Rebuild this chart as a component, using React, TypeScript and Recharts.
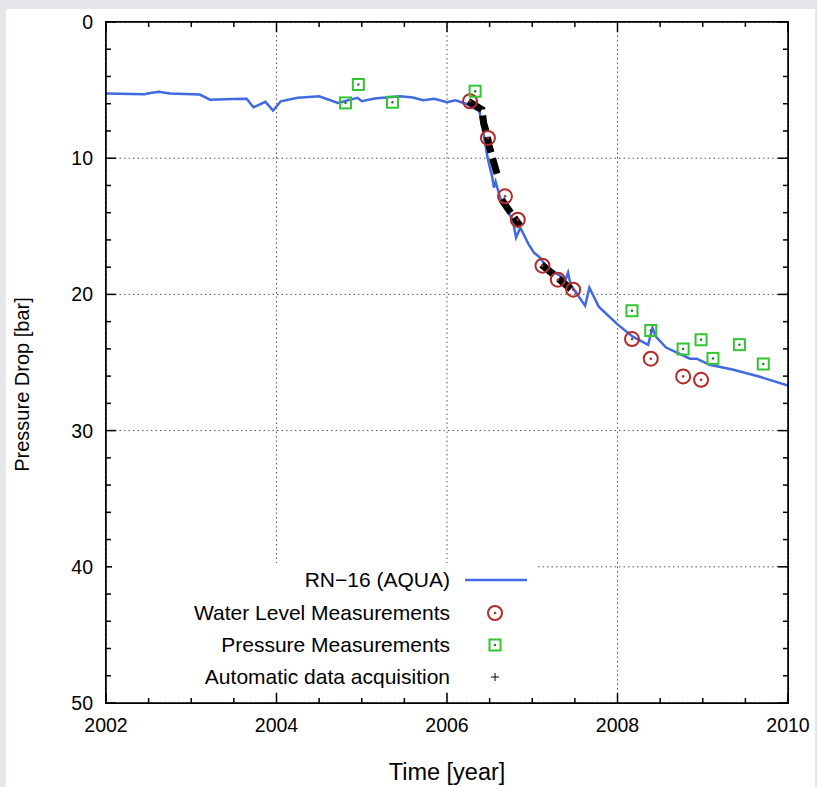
import React from "react";
import { ComposedChart, Line, Scatter, XAxis, YAxis, CartesianGrid } from "recharts";

const FONT = "'Liberation Sans', Arial, Helvetica, sans-serif";

const YEAR_TICKS = [2002, 2004, 2006, 2008, 2010];
const YEAR_ALL = [
  2002, 2002.5, 2003, 2003.5, 2004, 2004.5, 2005, 2005.5, 2006, 2006.5, 2007,
  2007.5, 2008, 2008.5, 2009, 2009.5, 2010,
];
const DROP_TICKS = [0, 10, 20, 30, 40, 50];
const DROP_ALL = [
  0, 2, 4, 6, 8, 10, 12, 14, 16, 18, 20, 22, 24, 26, 28, 30, 32, 34, 36, 38,
  40, 42, 44, 46, 48, 50,
];

// RN-16 (AQUA) model curve
const aquaYears = [
  2002.0, 2002.45, 2002.52, 2002.62, 2002.75, 2003.1, 2003.22, 2003.5, 2003.65,
  2003.73, 2003.87, 2003.96, 2004.05, 2004.25, 2004.5, 2004.72, 2004.95, 2005.0,
  2005.15, 2005.45, 2005.6, 2005.72, 2005.85, 2006.0, 2006.1, 2006.22, 2006.38,
  2006.44, 2006.48, 2006.53, 2006.55, 2006.57, 2006.63, 2006.77, 2006.81,
  2006.86, 2006.96, 2007.02, 2007.08, 2007.15, 2007.27, 2007.39, 2007.42,
  2007.45, 2007.62, 2007.67, 2007.78, 2008.0, 2008.18, 2008.36, 2008.38,
  2008.41, 2008.45, 2008.57, 2008.85, 2008.93, 2009.08, 2009.36, 2009.67, 2010.0,
];
const aquaDrop = [
  5.25, 5.3, 5.22, 5.13, 5.25, 5.33, 5.7, 5.65, 5.64,
  6.26, 5.86, 6.5, 5.82, 5.57, 5.45, 5.94, 5.57, 5.82,
  5.62, 5.45, 5.55, 5.75, 5.64, 5.89, 5.75, 6.0, 6.55,
  8.63, 10.1, 11.35, 12.16, 11.72, 13.04, 14.51, 15.83,
  15.1, 16.35, 16.94, 17.23, 17.82, 18.4, 18.92, 18.4,
  19.29, 20.83, 19.5, 20.9, 22.2, 23.1, 23.7, 23.18,
  22.45, 23.1, 23.9, 24.72, 24.72, 25.17, 25.53, 26.05, 26.7,
];

// Water level measurements
const waterYears = [
  2006.27, 2006.48, 2006.68, 2006.83, 2007.12, 2007.3, 2007.48, 2008.17,
  2008.39, 2008.77, 2008.98,
];
const waterDrop = [5.82, 8.51, 12.8, 14.51, 17.89, 18.92, 19.65, 23.28, 24.72, 26.02, 26.27];

// Pressure measurements
const pressureYears = [
  2004.81, 2004.96, 2005.36, 2006.33, 2008.17, 2008.39, 2008.77, 2008.98,
  2009.12, 2009.43, 2009.71,
];
const pressureDrop = [5.94, 4.59, 5.89, 5.08, 21.2, 22.65, 24.01, 23.33, 24.7, 23.69, 25.11];

// Automatic data acquisition (null = gap)
const autoYears = [
  2006.25, 2006.41, 2006.43, 2006.47, 2006.49, 2006.55, 2006.6, 2006.62,
  2006.64, 2006.86, 2006.98, 2007.11, 2007.51,
];
const autoDrop = [5.82, 6.43, 7.41, 8.27, 9.0, 10.35, 11.45, null, 13.04, 15.0, null, 17.82, 19.9];

const SERIES_NAMES = [
  "RN\u221216 (AQUA)",
  "Water Level Measurements",
  "Pressure Measurements",
  "Automatic data acquisition",
];

const zip = (xs: number[], ys: (number | null)[]) => xs.map((x, i) => ({ x, y: ys[i] }));

const aquaData = zip(aquaYears, aquaDrop);
const waterData = zip(waterYears, waterDrop);
const pressureData = zip(pressureYears, pressureDrop);
const autoData = zip(autoYears, autoDrop);

const W = 817;
const H = 787;
const MARGIN = { top: 21, right: 28, bottom: 54, left: 46 };
const Y_AXIS_W = 60;
const X_AXIS_H = 30;
const PLOT_LEFT = MARGIN.left + Y_AXIS_W;
const PLOT_TOP = MARGIN.top + 1;
// plot size, so a bottom/left tick can also draw its twin on the top/right frame
const PLOT_W = W - PLOT_LEFT - MARGIN.right - 1;
const PLOT_H = H - PLOT_TOP - MARGIN.bottom - X_AXIS_H;

const RED = "#b22a2a";
const GREEN = "#33c433";
const BLUE = "#4169e1";

function Ring({ cx, cy }: any) {
  return (
    <g>
      <circle cx={cx} cy={cy} r={7} fill="none" stroke={RED} strokeWidth={2} />
      <circle cx={cx} cy={cy} r={1.3} fill={RED} />
    </g>
  );
}

function Box({ cx, cy }: any) {
  return (
    <g>
      <rect x={cx - 5.5} y={cy - 5.5} width={11} height={11} fill="none" stroke={GREEN} strokeWidth={2} />
      <circle cx={cx} cy={cy} r={1.2} fill="#1a7a1a" />
    </g>
  );
}

const NoLabel = () => <g />;

function XTick({ x, y, payload }: any) {
  const major = YEAR_TICKS.includes(payload.value);
  const len = major ? 10 : 5;
  return (
    <g>
      <line x1={x} y1={y} x2={x} y2={y - len} stroke="#000" strokeWidth={1.5} />
      <line x1={x} y1={y - PLOT_H} x2={x} y2={y - PLOT_H + len} stroke="#000" strokeWidth={1.5} />
      {major && (
        <text x={x} y={y + 15} dy="0.71em" textAnchor="middle" fill="#000" fontSize={19.5} fontFamily={FONT}>
          {payload.value}
        </text>
      )}
    </g>
  );
}

function YTick({ x, y, payload }: any) {
  const major = DROP_TICKS.includes(payload.value);
  const len = major ? 10 : 5;
  return (
    <g>
      <line x1={x} y1={y} x2={x + len} y2={y} stroke="#000" strokeWidth={1.5} />
      <line x1={x + PLOT_W} y1={y} x2={x + PLOT_W - len} y2={y} stroke="#000" strokeWidth={1.5} />
      {major && (
        <text x={x - 13} y={y} dy="0.355em" textAnchor="end" fill="#000" fontSize={19.5} fontFamily={FONT}>
          {payload.value}
        </text>
      )}
    </g>
  );
}

const blackLine = { stroke: "#000", strokeWidth: 1.5 };

function LegendBox() {
  const rows = [17, 49.5, 82, 114];
  const symbols = [
    <line x1={0} y1={15} x2={62} y2={15} stroke={BLUE} strokeWidth={2.5} />,
    <Ring cx={30} cy={15} />,
    <Box cx={30} cy={15} />,
    <g stroke="#000" strokeWidth={1}>
      <line x1={26} y1={15} x2={34} y2={15} />
      <line x1={30} y1={11} x2={30} y2={19} />
    </g>,
  ];
  const left = 112;
  return (
    <div
      style={{
        position: "absolute",
        left,
        top: 563,
        width: 535 - left,
        height: 129,
        background: "#fff",
      }}
    >
      {SERIES_NAMES.map((name, i) => (
        <div key={name} style={{ position: "absolute", left: 0, top: rows[i] - 15, width: 535 - left, height: 30 }}>
          <span
            style={{
              position: "absolute",
              right: 535 - 450,
              lineHeight: "30px",
              fontSize: 21,
              whiteSpace: "nowrap",
              color: "#000",
            }}
          >
            {name}
          </span>
          <svg style={{ position: "absolute", left: 465 - left }} width={64} height={30}>
            {symbols[i]}
          </svg>
        </div>
      ))}
    </div>
  );
}

export default function App() {
  return (
    <div
      style={{
        position: "absolute",
        left: 0,
        top: 0,
        width: W,
        height: H,
        background: "#e4e6ea",
        overflow: "hidden",
        fontFamily: FONT,
      }}
    >
      <div style={{ position: "absolute", left: 6, top: 9, width: 809, height: 778, background: "#fff" }} />
      <div style={{ position: "absolute", left: 0, top: 0 }}>
        <ComposedChart width={W} height={H} margin={MARGIN}>
          <CartesianGrid xAxisId="xt" yAxisId="yr" stroke="#555" strokeDasharray="1.5 3" />
          <XAxis
            xAxisId="x"
            dataKey="x"
            type="number"
            domain={[2002, 2010]}
            ticks={YEAR_ALL}
            interval={0}
            allowDataOverflow
            height={X_AXIS_H}
            tickSize={0}
            tickMargin={0}
            tickLine={false}
            axisLine={blackLine}
            tick={XTick}
            label={{ value: "Time [year]", position: "bottom", offset: 30, fill: "#000", fontSize: 23.5, fontFamily: FONT }}
          />
          <XAxis
            xAxisId="xt"
            dataKey="x"
            orientation="top"
            type="number"
            domain={[2002, 2010]}
            ticks={YEAR_TICKS}
            allowDataOverflow
            height={1}
            tickLine={false}
            axisLine={blackLine}
            tick={NoLabel}
          />
          <YAxis
            yAxisId="y"
            dataKey="y"
            type="number"
            reversed
            domain={[0, 50]}
            ticks={DROP_ALL}
            interval={0}
            allowDataOverflow
            width={Y_AXIS_W}
            tickSize={0}
            tickMargin={0}
            tickLine={false}
            axisLine={blackLine}
            tick={YTick}
            label={{
              content: ({ viewBox }: any) => {
                const cy = viewBox.y + viewBox.height / 2 + 22;
                return (
                  <text
                    x={22}
                    y={cy}
                    transform={`rotate(-90 22 ${cy})`}
                    textAnchor="middle"
                    dominantBaseline="central"
                    fontSize={20}
                    fontFamily={FONT}
                    fill="#000"
                  >
                    Pressure Drop [bar]
                  </text>
                );
              },
            }}
          />
          <YAxis
            yAxisId="yr"
            orientation="right"
            type="number"
            reversed
            domain={[0, 50]}
            ticks={DROP_TICKS}
            allowDataOverflow
            width={1}
            tickLine={false}
            axisLine={blackLine}
            tick={NoLabel}
          />

          <Line
            xAxisId="x"
            yAxisId="y"
            data={aquaData}
            dataKey="y"
            name={SERIES_NAMES[0]}
            stroke={BLUE}
            strokeWidth={2.5}
            dot={false}
            activeDot={false}
            type="linear"
            isAnimationActive={false}
          />
          <Scatter xAxisId="x" yAxisId="y" data={waterData} dataKey="y" name={SERIES_NAMES[1]} shape={<Ring />} isAnimationActive={false} />
          <Scatter xAxisId="x" yAxisId="y" data={pressureData} dataKey="y" name={SERIES_NAMES[2]} shape={<Box />} isAnimationActive={false} />
          <Line
            xAxisId="x"
            yAxisId="y"
            data={autoData}
            dataKey="y"
            name={SERIES_NAMES[3]}
            stroke="#000"
            strokeWidth={7}
            strokeDasharray="16 6"
            dot={false}
            activeDot={false}
            connectNulls={false}
            type="linear"
            isAnimationActive={false}
          />
        </ComposedChart>
      </div>
      <LegendBox />
      {/* plot frame */}
      <div
        style={{
          position: "absolute",
          left: PLOT_LEFT - 0.75,
          top: PLOT_TOP - 0.75,
          width: PLOT_W + 1.5,
          height: PLOT_H + 1.5,
          border: "1.5px solid #000",
          boxSizing: "border-box",
          pointerEvents: "none",
        }}
      />
    </div>
  );
}
